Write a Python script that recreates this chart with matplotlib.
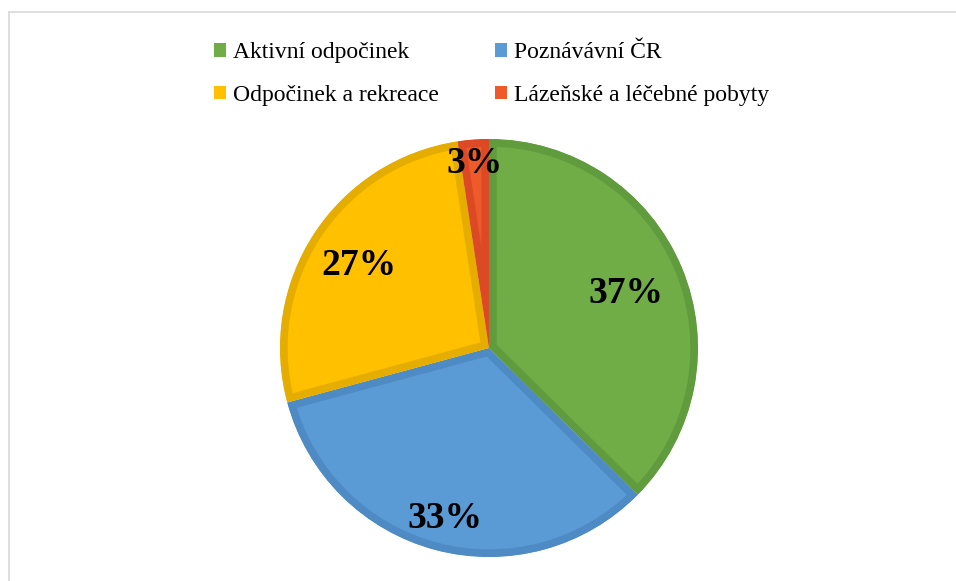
import matplotlib
matplotlib.use("Agg")
import matplotlib.pyplot as plt
from matplotlib.patches import Patch
from matplotlib.lines import Line2D
import numpy as np

categories = ["Aktivní odpočinek", "Poznávávní ČR", "Odpočinek a rekreace", "Lázeňské a léčebné pobyty"]
shares = [37.4, 33.4, 26.8, 2.4]
pct_labels = ["37%", "33%", "27%", "3%"]

fills = ["#70AD47", "#5B9BD5", "#FFC000", "#EE5A2A"]
edges = ["#609B3D", "#4E8BC4", "#E5AD00", "#DB4A24"]
label_dist = [0.71, 0.83, 0.745, 0.90]

W, H = 956, 581
fig = plt.figure(figsize=(W / 100, H / 100), dpi=100)
ax = fig.add_axes([0, 0, 1, 1])

cx, cy, R = 489, H - 348, 209
wedges, _ = ax.pie(shares, colors=fills, startangle=90, counterclock=False,
                   radius=R, center=(cx, cy), frame=True,
                   wedgeprops=dict(linewidth=11))
ax.set_xlim(0, W)
ax.set_ylim(0, H)
ax.set_aspect("equal")
ax.axis("off")
for w, ec in zip(wedges, edges):
    w.set_edgecolor(ec)
    w.set_clip_on(True)
    w.set_clip_path(w)

for w, lab, d in zip(wedges, pct_labels, label_dist):
    ang = np.deg2rad((w.theta1 + w.theta2) / 2)
    x = cx + d * R * np.cos(ang)
    y = cy + d * R * np.sin(ang)
    ax.text(x, y - 3, lab, ha="center", va="center", fontsize=27, fontweight="bold",
            family="Liberation Serif", color="black")

# border
ax.add_line(Line2D([9, 9], [0, H - 12], color="#D9D9D9", lw=1.2))
ax.add_line(Line2D([9, W], [H - 12, H - 12], color="#D9D9D9", lw=1.2))

order = [0, 2, 1, 3]
handles = [Patch(facecolor=fills[i], edgecolor="none") for i in order]
labels = [categories[i] for i in order]
leg = ax.legend(handles, labels, ncol=2, loc="upper left",
                bbox_to_anchor=(205 / W, 1 - 33 / H), frameon=False,
                prop={"family": "Liberation Serif", "size": 17},
                handlelength=0.5, handleheight=0.5, handletextpad=0.3,
                columnspacing=2.35, labelspacing=0.9, borderaxespad=0)

fig.savefig("out.png", dpi=100)
